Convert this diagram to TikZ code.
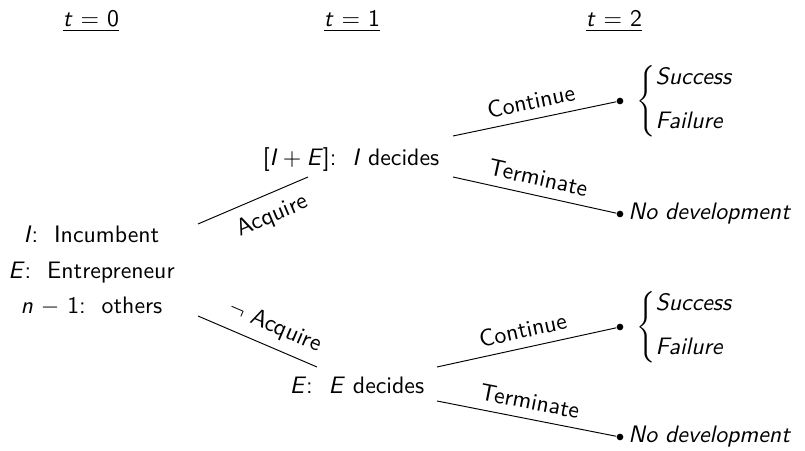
\documentclass[tikz,border=0pt]{standalone}
\begin{document}
\begin{tikzpicture}[x=0.42pt,y=-0.42pt,font=\sffamily,
  lbl/.style={sloped,inner sep=3.8pt},
  lblb/.style={sloped,inner sep=4.6pt},
  dot/.style={circle,fill,inner sep=0pt,minimum size=2.8pt},
  head/.style={anchor=base,inner sep=0pt},
  leaf/.style={anchor=west,inner sep=0pt}]
\useasboundingbox (0,0) rectangle (805,451);
% headings
\node[head] (h0) at (91,27) {\underline{\textit{t} = 0}};
\node[head] (h1) at (352,27) {\underline{\textit{t} = 1}};
\node[head] (h2) at (614,27) {\underline{\textit{t} = 2}};
% root
\node[align=center] (root) at (91.5,271) {\textit{I}:\ \ Incumbent\\[3pt]\textit{E}:\ \ Entrepreneur\\[3pt]\textit{n}~$-$~1:\ \ others};
% stage 1
\node (ie) at (351,160) {[\textit{I}\hspace{0.22em}$+$\hspace{0.22em}\textit{E}]:\ \ \textit{I} decides};
\node (ed) at (357,385) {\textit{E}:\ \ \textit{E} decides};
% dots
\node[dot] (d1) at (620,101) {};
\node[dot] (d2) at (620,214) {};
\node[dot] (d3) at (620,327) {};
\node[dot] (d4) at (620,437) {};
% outcomes
\node[leaf] (o1) at (636,101) {$\left\{\begin{array}{@{}l@{}}\textit{Success}\\[6.5pt]\textit{Failure}\end{array}\right.$};
\node[leaf] (o2) at (628,214) {\textit{No development}};
\node[leaf] (o3) at (636,327) {$\left\{\begin{array}{@{}l@{}}\textit{Success}\\[6.5pt]\textit{Failure}\end{array}\right.$};
\node[leaf] (o4) at (628,437) {\textit{No development}};
% edge ends
\coordinate (a0) at (198,224);
\coordinate (a1) at (308,177);
\coordinate (b0) at (198,316);
\coordinate (b1) at (317,367);
\coordinate (c0) at (453,136);
\coordinate (c1) at (453,177);
\coordinate (e0) at (437,367);
\coordinate (e1) at (437,401);
% edges
\draw (a0) -- node[lblb,below,pos=0.6] {Acquire} (a1);
\draw (b0) -- node[lbl,above,pos=0.58] {$\neg$ Acquire} (b1);
\draw (c0) -- node[lbl,above] {Continue} (d1);
\draw (c1) -- node[lbl,above] {Terminate} (d2);
\draw (e0) -- node[lbl,above] {Continue} (d3);
\draw (e1) -- node[lbl,above] {Terminate} (d4);
\end{tikzpicture}
\end{document}
